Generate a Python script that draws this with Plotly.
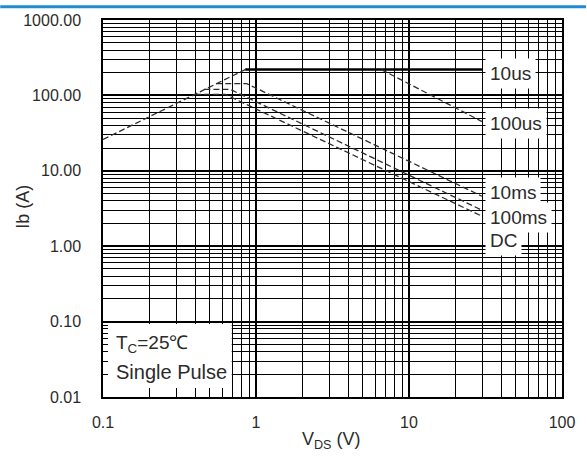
import plotly.graph_objects as go

# ---- data ----
rds_v = [0.1, 0.85]
rds_i = [26, 220]

us10_v = [0.85, 30]
us10_i = [220, 220]

us100_v = [6.6, 30]
us100_i = [220, 45]

ms10_v = [0.55, 0.87, 30]
ms10_i = [143, 143, 4.6]

ms100_v = [0.46, 0.68, 30]
ms100_i = [120, 120, 3.0]

dc_v = [0.40, 0.63, 30]
dc_i = [103, 103, 2.5]

x_tickvals = [0.1, 1, 10, 100]
x_ticktext = ["0.1", "1", "10", "100"]
y_tickvals = [0.01, 0.1, 1, 10, 100, 1000]
y_ticktext = ["0.01", "0.10", "1.00", "10.00", "100.00", "1000.00"]

curve_labels = ["10us", "100us", "10ms", "100ms", "DC"]

# ---- layout geometry (pixels) ----
W, H = 587, 461
ML, MR, MT, MB = 103, 24, 15, 64
PW, PH = W - ML - MR, H - MT - MB


def px(xp):
    return (xp - ML) / PW


def py(yp):
    return (H - MB - yp) / PH


FONT = "Liberation Sans, Arial, sans-serif"
TXT = "#2b2b2b"

fig = go.Figure()
dash_style = dict(color="#2e2e2e", width=1.3, dash="6px,3px")
fig.add_trace(go.Scatter(x=rds_v, y=rds_i, mode="lines", line=dash_style))
fig.add_trace(go.Scatter(x=us10_v, y=us10_i, mode="lines",
                         line=dict(color="black", width=2.5)))
fig.add_trace(go.Scatter(x=us100_v, y=us100_i, mode="lines", line=dash_style))
fig.add_trace(go.Scatter(x=ms10_v, y=ms10_i, mode="lines", line=dash_style))
fig.add_trace(go.Scatter(x=ms100_v, y=ms100_i, mode="lines", line=dash_style))
fig.add_trace(go.Scatter(x=dc_v, y=dc_i, mode="lines", line=dash_style))

axis_common = dict(
    type="log",
    showgrid=True, gridcolor="black", gridwidth=2,
    minor=dict(showgrid=True, gridcolor="black", gridwidth=1.2, dtick="D1"),
    showline=True, linecolor="black", linewidth=1.5, mirror=True,
    ticks="", zeroline=False,
    tickfont=dict(family=FONT, size=16, color=TXT),
)

fig.update_xaxes(range=[-1, 2], tickvals=x_tickvals, ticktext=x_ticktext,
                 ticklabelstandoff=10, **axis_common)
fig.update_yaxes(range=[-2, 3], tickvals=y_tickvals, ticktext=y_ticktext,
                 ticklabelstandoff=17, **axis_common)

shapes = [
    # blue band on top of the picture
    dict(type="rect", xref="paper", yref="paper", x0=px(0), x1=px(W),
         y0=py(3), y1=py(0), fillcolor="#1f8bd0", line=dict(width=0), layer="above"),
    # white box behind the condition note
    dict(type="rect", xref="paper", yref="paper", x0=px(108), x1=px(232),
         y0=py(388), y1=py(323), fillcolor="white", line=dict(width=0), layer="above"),
]

annotations = []
label_y = [69.5, 119.5, 190, 215, 238]
for lab, yy in zip(curve_labels, label_y):
    annotations.append(dict(
        text=lab, xref="paper", yref="paper", x=px(486), y=py(yy),
        xanchor="left", yanchor="middle", showarrow=False,
        font=dict(family=FONT, size=19, color=TXT),
        bgcolor="white", borderpad=4))

annotations += [
    dict(text="T<sub>C</sub>=25\u2103", xref="paper", yref="paper",
         x=px(114), y=py(343), xanchor="left", yanchor="middle", showarrow=False,
         font=dict(family=FONT, size=19, color=TXT)),
    dict(text="Single Pulse", xref="paper", yref="paper",
         x=px(114), y=py(372), xanchor="left", yanchor="middle", showarrow=False,
         font=dict(family=FONT, size=20, color=TXT)),
    dict(text="V<sub>DS</sub> (V)", xref="paper", yref="paper",
         x=px(332), y=py(441), xanchor="center", yanchor="middle", showarrow=False,
         font=dict(family=FONT, size=18, color=TXT)),
    dict(text="Ib (A)", xref="paper", yref="paper", textangle=-90,
         x=px(22), y=py(204), xanchor="center", yanchor="middle", showarrow=False,
         font=dict(family=FONT, size=18, color=TXT)),
]

fig.update_layout(
    width=W, height=H,
    margin=dict(l=ML, r=MR, t=MT, b=MB),
    paper_bgcolor="white", plot_bgcolor="white",
    showlegend=False,
    shapes=shapes, annotations=annotations,
)

fig.write_html(
    "out.html",
    config={"displayModeBar": False},
    post_script="document.body.style.margin='0px';document.body.style.padding='0px';",
)
